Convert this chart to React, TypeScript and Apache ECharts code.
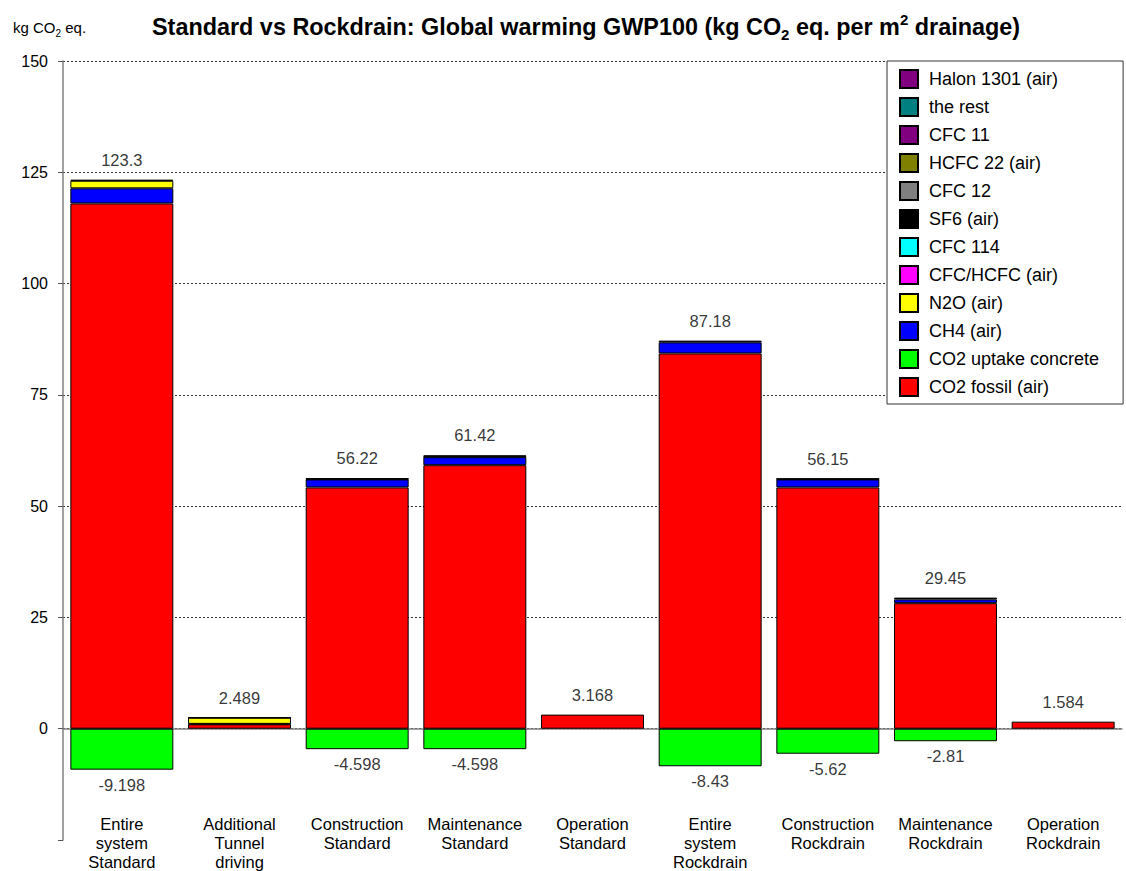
import React, { useEffect, useRef } from "react";
import * as echarts from "echarts";

const FONT = "'Liberation Sans', Arial, sans-serif";

const categories = [
  "Entire\nsystem\nStandard",
  "Additional\nTunnel\ndriving",
  "Construction\nStandard",
  "Maintenance\nStandard",
  "Operation\nStandard",
  "Entire\nsystem\nRockdrain",
  "Construction\nRockdrain",
  "Maintenance\nRockdrain",
  "Operation\nRockdrain",
];

// stacked components (kg CO2 eq. per m2 drainage)
const co2Fossil = [118.0, 1.0, 54.2, 59.2, 3.168, 84.3, 54.2, 28.2, 1.584];
const co2Uptake = [-9.198, 0, -4.598, -4.598, 0, -8.43, -5.62, -2.81, 0];
const ch4 = [3.4, 0.09, 1.8, 1.8, 0, 2.5, 1.8, 0.85, 0];
const n2o = [1.7, 1.38, 0.1, 0.1, 0, 0, 0.1, 0, 0];
const cfcHcfc = [0, 0, 0, 0, 0, 0, 0, 0, 0];
const cfc114 = [0, 0, 0, 0, 0, 0, 0, 0, 0];
const sf6 = [0.2, 0.019, 0.12, 0.32, 0, 0.38, 0.05, 0.4, 0];
const cfc12 = [0, 0, 0, 0, 0, 0, 0, 0, 0];
const hcfc22 = [0, 0, 0, 0, 0, 0, 0, 0, 0];
const cfc11 = [0, 0, 0, 0, 0, 0, 0, 0, 0];
const theRest = [0, 0, 0, 0, 0, 0, 0, 0, 0];
const halon1301 = [0, 0, 0, 0, 0, 0, 0, 0, 0];

// labelled totals
const positiveTotals = [123.3, 2.489, 56.22, 61.42, 3.168, 87.18, 56.15, 29.45, 1.584];
const positiveLabels = ["123.3", "2.489", "56.22", "61.42", "3.168", "87.18", "56.15", "29.45", "1.584"];
const negativeTotals = [-9.198, 0, -4.598, -4.598, 0, -8.43, -5.62, -2.81, 0];
const negativeLabels = ["-9.198", "", "-4.598", "-4.598", "", "-8.43", "-5.62", "-2.81", ""];

const yMin = -25;
const yMax = 150;
const yStep = 25;

// bottom-to-top stacking order
const stackSeries: { name: string; color: string; values: number[] }[] = [
  { name: "CO2 fossil (air)", color: "#FF0000", values: co2Fossil },
  { name: "CO2 uptake concrete", color: "#00FF00", values: co2Uptake },
  { name: "CH4 (air)", color: "#0000FF", values: ch4 },
  { name: "N2O (air)", color: "#FFFF00", values: n2o },
  { name: "CFC/HCFC (air)", color: "#FF00FF", values: cfcHcfc },
  { name: "CFC 114", color: "#00FFFF", values: cfc114 },
  { name: "SF6 (air)", color: "#000000", values: sf6 },
  { name: "CFC 12", color: "#808080", values: cfc12 },
  { name: "HCFC 22 (air)", color: "#808000", values: hcfc22 },
  { name: "CFC 11", color: "#800080", values: cfc11 },
  { name: "the rest", color: "#008080", values: theRest },
  { name: "Halon 1301 (air)", color: "#800080", values: halon1301 },
];

export default function App() {
  const ref = useRef<HTMLDivElement>(null);

  useEffect(() => {
    if (!ref.current) return;
    const chart = echarts.init(ref.current, undefined, { renderer: "svg" });

    const bars = stackSeries.map((s) => ({
      name: s.name,
      type: "bar",
      stack: "total",
      xAxisIndex: 0,
      barCategoryGap: "12.5%",
      data: s.values.map((v) => (v === 0 ? "-" : v)),
      itemStyle: { color: s.color, borderColor: "#000", borderWidth: 1 },
      emphasis: { disabled: true },
    }));

    const option: any = {
      animation: false,
      backgroundColor: "#fff",
      title: [
        {
          left: 147,
          top: 7,
          text: "{b|Standard vs Rockdrain: Global warming GWP100 (kg CO}{s|2}{b| eq. per m}{p|2}{b| drainage)}",
          textStyle: {
            fontFamily: FONT,
            rich: {
              b: { fontSize: 23.4, fontWeight: "bold", lineHeight: 30, fontFamily: FONT, color: "#000" },
              s: { fontSize: 15, fontWeight: "bold", lineHeight: 15, verticalAlign: "bottom", fontFamily: FONT, color: "#000" },
              p: { fontSize: 15, fontWeight: "bold", lineHeight: 15, verticalAlign: "top", fontFamily: FONT, color: "#000" },
            },
          },
        },
        {
          left: 8,
          top: 11,
          text: "{n|kg CO}{s|2}{n| eq.}",
          textStyle: {
            fontFamily: FONT,
            fontWeight: "normal",
            rich: {
              n: { fontSize: 15, fontWeight: "normal", lineHeight: 22, fontFamily: FONT, color: "#000" },
              s: { fontSize: 10, fontWeight: "normal", lineHeight: 10, verticalAlign: "bottom", fontFamily: FONT, color: "#000" },
            },
          },
        },
      ],
      legend: {
        orient: "vertical",
        left: 887,
        top: 61,
        data: stackSeries.map((s) => s.name).reverse(),
        itemWidth: 18,
        itemHeight: 18,
        itemGap: 8,
        icon: "rect",
        padding: [8, 24, 7, 12],
        backgroundColor: "#fff",
        borderColor: "#333",
        borderWidth: 1,
        selectedMode: false,
        textStyle: { fontFamily: FONT, fontSize: 18, color: "#000", padding: [0, 0, 0, 6] },
      },
      grid: { left: 63, right: 4, top: 61, bottom: 27, containLabel: false },
      xAxis: [
        {
          type: "category",
          data: categories,
          position: "bottom",
          axisLine: { show: true, onZero: true, lineStyle: { color: "#808080", width: 1.5 } },
          axisTick: { show: false },
          axisLabel: { show: false },
          splitLine: { show: false },
        },
        {
          type: "category",
          data: categories,
          position: "bottom",
          offset: -26,
          axisLine: { show: false, onZero: false },
          axisTick: { show: false },
          axisLabel: {
            show: true,
            margin: 0,
            interval: 0,
            fontFamily: FONT,
            fontSize: 16.5,
            lineHeight: 19,
            color: "#000",
            verticalAlign: "top",
          },
          splitLine: { show: false },
        },
      ],
      yAxis: {
        type: "value",
        min: yMin,
        max: yMax,
        interval: yStep,
        axisLine: { show: true, lineStyle: { color: "#808080", width: 1.5 } },
        axisTick: { show: true, length: 5, lineStyle: { color: "#555" } },
        axisLabel: {
          fontFamily: FONT,
          fontSize: 16,
          color: "#000",
          margin: 15,
          formatter: (v: number) => (v < 0 ? "" : String(v)),
        },
        splitLine: {
          show: true,
          showMinLine: false,
          lineStyle: { color: "#333", type: [2, 2], width: 1 },
        },
      },
      series: [
        ...bars,
        {
          name: "posTotals",
          type: "scatter",
          xAxisIndex: 0,
          symbolSize: 1,
          itemStyle: { color: "rgba(0,0,0,0)" },
          data: positiveTotals.map((v, i) => ({ value: [i, v], label: { formatter: positiveLabels[i] } })),
          label: {
            show: true,
            position: "top",
            distance: 11,
            fontFamily: FONT,
            fontSize: 16.5,
            color: "#000",
          },
          z: 5,
        },
        {
          name: "negTotals",
          type: "scatter",
          xAxisIndex: 0,
          symbolSize: 1,
          itemStyle: { color: "rgba(0,0,0,0)" },
          data: negativeTotals
            .map((v, i) => ({ value: [i, v], label: { formatter: negativeLabels[i] } }))
            .filter((d) => d.value[1] !== 0),
          label: {
            show: true,
            position: "bottom",
            distance: 6,
            fontFamily: FONT,
            fontSize: 16.5,
            color: "#000",
          },
          z: 5,
        },
      ],
    };

    chart.setOption(option);
    return () => chart.dispose();
  }, []);

  return <div ref={ref} style={{ width: 1126, height: 871, position: "absolute", left: 0, top: 0 }} />;
}
